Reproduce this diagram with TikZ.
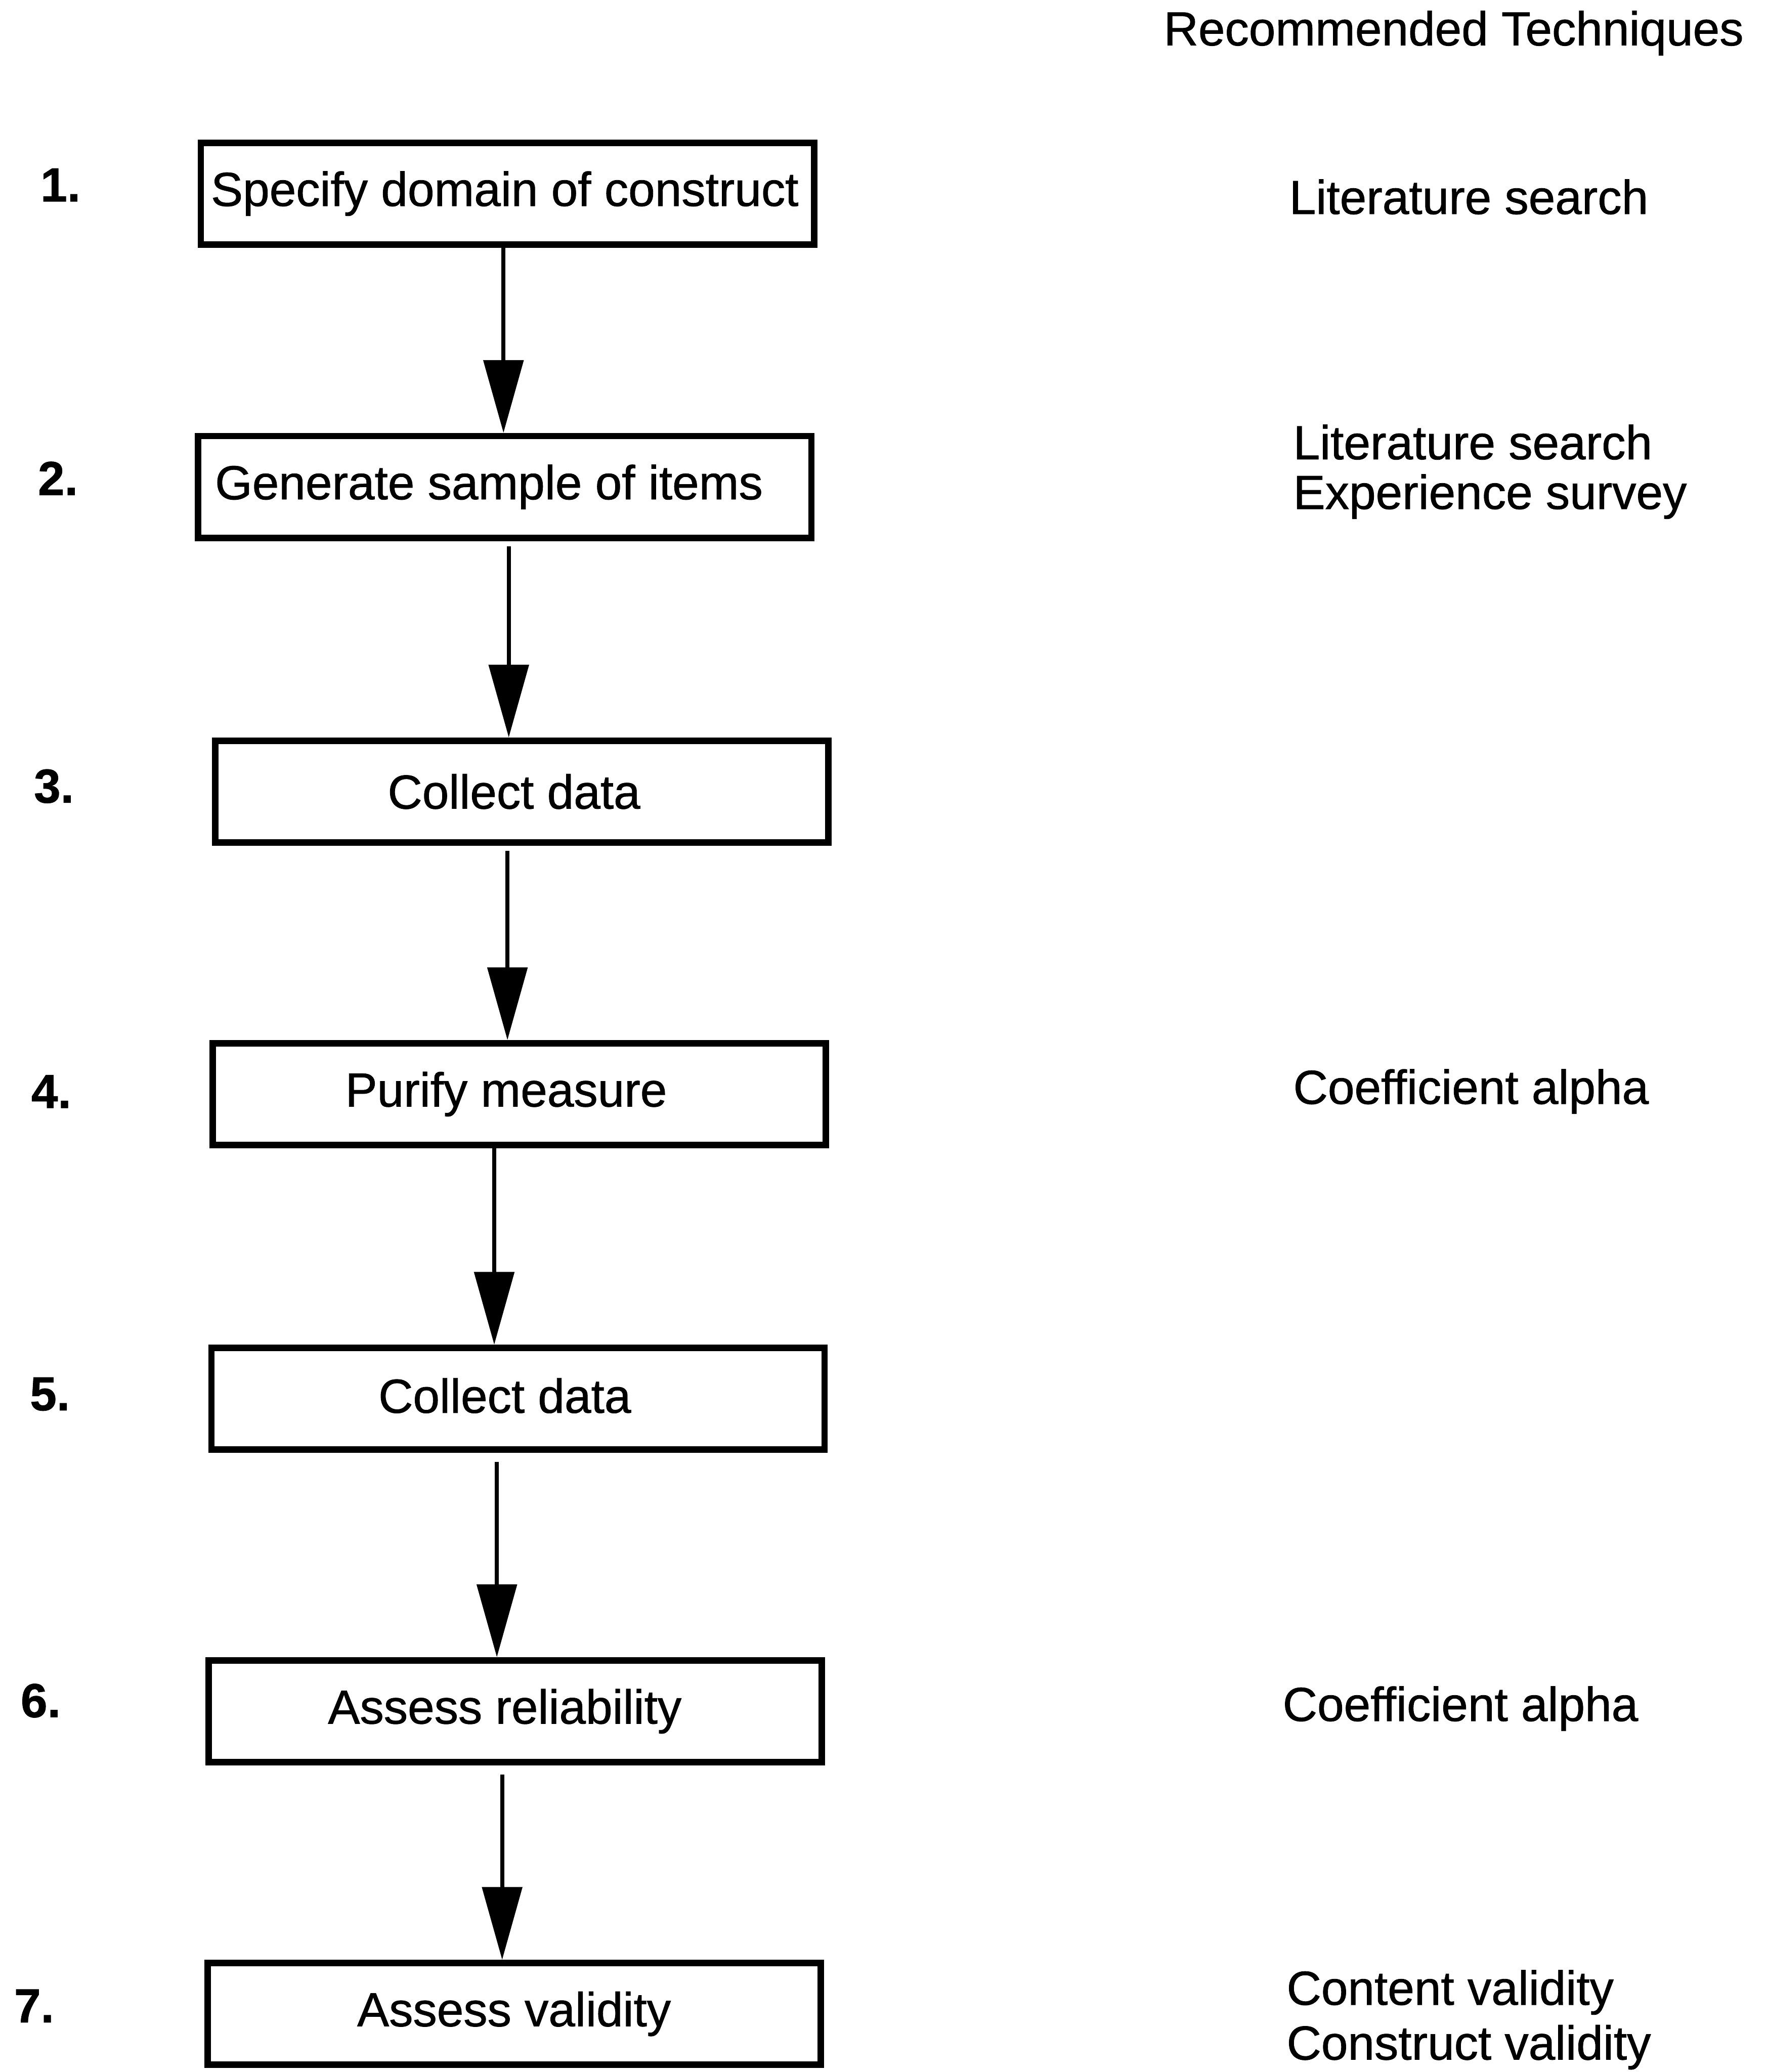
\documentclass[tikz,border=0pt]{standalone}
\usepackage{fontspec}
\setmainfont{Liberation Sans}[FakeBold=0.9]
\usetikzlibrary{arrows.meta}
% shift a box text sideways without changing its width
\newcommand\nudge[2]{\hspace*{#1}#2\hspace*{-#1}}
\begin{document}
\begin{tikzpicture}[
  every node/.style={font=\fontsize{10.3}{11.5}\selectfont, inner sep=0pt},
  stepbox/.style={draw, line width=1.4pt, minimum width=4.64cm, minimum height=0.77cm},
  num/.style={anchor=west, font=\fontsize{10.3}{11.5}\selectfont\bfseries},
  tech/.style={anchor=west, align=left},
  flow/.style={line width=0.85pt, -{Triangle[length=5.5mm,width=3mm]}}
]
\useasboundingbox (0,0) rectangle (13.37,-15.68);

% heading of the technique column
\node[anchor=west] (head) at (8.80,-0.25) {Recommended Techniques};

% step boxes
\node[stepbox] (b1) at (3.84,-1.465)  {\nudge{-0.02cm}{Specify domain of construct}};
\node[stepbox] (b2) at (3.82,-3.685)  {\nudge{-0.12cm}{Generate sample of items}};
\node[stepbox] (b3) at (3.95,-5.99)   {\nudge{-0.06cm}{Collect data}};
\node[stepbox] (b4) at (3.93,-8.28)   {\nudge{-0.10cm}{Purify measure}};
\node[stepbox] (b5) at (3.92,-10.585) {\nudge{-0.10cm}{\raisebox{0.05cm}{Collect data}}};
\node[stepbox] (b6) at (3.90,-12.95)  {\nudge{-0.08cm}{Assess reliability}};
\node[stepbox] (b7) at (3.89,-15.24)  {Assess validity};

% step numbers
\node[num] (n1) at (0.30,-1.40)  {1.};
\node[num] (n2) at (0.28,-3.62)  {2.};
\node[num] (n3) at (0.25,-5.95)  {3.};
\node[num] (n4) at (0.23,-8.26)  {4.};
\node[num] (n5) at (0.22,-10.55) {5.};
\node[num] (n6) at (0.15,-12.87) {6.};
\node[num] (n7) at (0.10,-15.18) {7.};

% recommended techniques
\node[tech] (r1) at (9.75,-1.49)  {Literature search};
\node[tech] (r2) at (9.78,-3.57)  {Literature search\\[-0.8pt]Experience survey};
\node[tech] (r4) at (9.78,-8.26)  {Coefficient alpha};
\node[tech] (r6) at (9.70,-12.93) {Coefficient alpha};
\node[tech] (r7) at (9.73,-15.285) {Content validity\\[0.3pt]Construct validity};

% arrows between steps
\coordinate (a1) at (3.81,0);
\coordinate (a2) at (3.85,0);
\coordinate (a3) at (3.84,0);
\coordinate (a4) at (3.74,0);
\coordinate (a5) at (3.76,0);
\coordinate (a6) at (3.80,0);
\draw[flow] (b1.south -| a1) -- (b2.north -| a1);
\draw[flow] ([yshift=-0.04cm]b2.south -| a2) -- (b3.north -| a2);
\draw[flow] ([yshift=-0.04cm]b3.south -| a3) -- (b4.north -| a3);
\draw[flow] (b4.south -| a4) -- (b5.north -| a4);
\draw[flow] ([yshift=-0.07cm]b5.south -| a5) -- (b6.north -| a5);
\draw[flow] ([yshift=-0.07cm]b6.south -| a6) -- (b7.north -| a6);
\end{tikzpicture}
\end{document}
